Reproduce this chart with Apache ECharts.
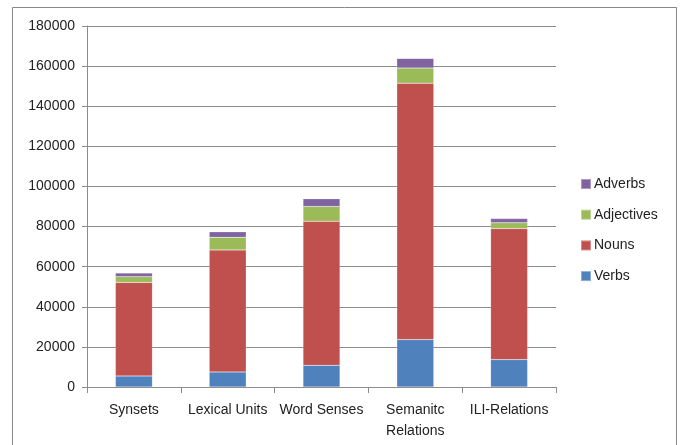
<!DOCTYPE html>
<html>
<head>
<meta charset="utf-8">
<script src="https://cdn.jsdelivr.net/npm/echarts@6/dist/echarts.min.js"></script>
<style>
  html, body { margin: 0; padding: 0; background: #fff; }
  #chart { width: 682px; height: 445px; }
</style>
</head>
<body>
<div id="chart"></div>
<script>
// Wordnet counts per part of speech, stacked by category
const categories = ['Synsets', 'Lexical Units', 'Word Senses', 'Semanitc\nRelations', 'ILI-Relations'];
const verbs      = [5500, 7500, 10850, 23650, 13650];
const nouns      = [46650, 60850, 71800, 127850, 65350];
const adjectives = [2850, 6300, 7350, 7500, 2850];
const adverbs    = [1850, 2700, 3850, 4850, 2150];
const yTicks = [0, 20000, 40000, 60000, 80000, 100000, 120000, 140000, 160000, 180000];

const FONT = '"Liberation Sans", Arial, sans-serif';
const chart = echarts.init(document.getElementById('chart'));

function bar(name, data, color) {
  return {
    name: name,
    type: 'bar',
    stack: 'total',
    data: data,
    barWidth: 37,
    itemStyle: { color: color, borderColor: 'rgba(255,255,255,0.35)', borderWidth: 0.5 }
  };
}

chart.setOption({
  animation: false,
  backgroundColor: '#fff',
  textStyle: { fontFamily: FONT },
  graphic: [{
    type: 'rect',
    shape: { x: 12.5, y: 7.5, width: 664, height: 450 },
    style: { fill: 'none', stroke: '#878787', lineWidth: 1 },
    silent: true
  }],
  grid: { left: 87, right: 126, top: 26, bottom: 58 },
  legend: {
    orient: 'vertical',
    left: 575,
    top: 172,
    itemWidth: 10,
    itemHeight: 10,
    itemGap: 16.7,
    icon: 'rect',
    data: ['Adverbs', 'Adjectives', 'Nouns', 'Verbs'],
    textStyle: { fontFamily: FONT, fontSize: 14, color: '#222', padding: [0, 0, 0, -2] }
  },
  xAxis: {
    type: 'category',
    data: categories,
    boundaryGap: true,
    axisLine: { lineStyle: { color: '#8c8c8c' } },
    axisTick: { show: true, length: 6, lineStyle: { color: '#8c8c8c' } },
    axisLabel: { fontFamily: FONT, fontSize: 14, color: '#222', margin: 13, lineHeight: 21, interval: 0 }
  },
  yAxis: {
    type: 'value',
    min: yTicks[0],
    max: yTicks[yTicks.length - 1],
    interval: yTicks[1] - yTicks[0],
    axisLine: { show: true, lineStyle: { color: '#8c8c8c' } },
    axisTick: { show: true, length: 5, lineStyle: { color: '#8c8c8c' } },
    splitLine: { lineStyle: { color: '#8c8c8c' } },
    axisLabel: { fontFamily: FONT, fontSize: 14, color: '#222', margin: 12, formatter: v => String(v) }
  },
  series: [
    bar('Verbs', verbs, '#4F81BD'),
    bar('Nouns', nouns, '#C0504D'),
    bar('Adjectives', adjectives, '#9BBB59'),
    bar('Adverbs', adverbs, '#8064A2')
  ]
});
</script>
</body>
</html>
